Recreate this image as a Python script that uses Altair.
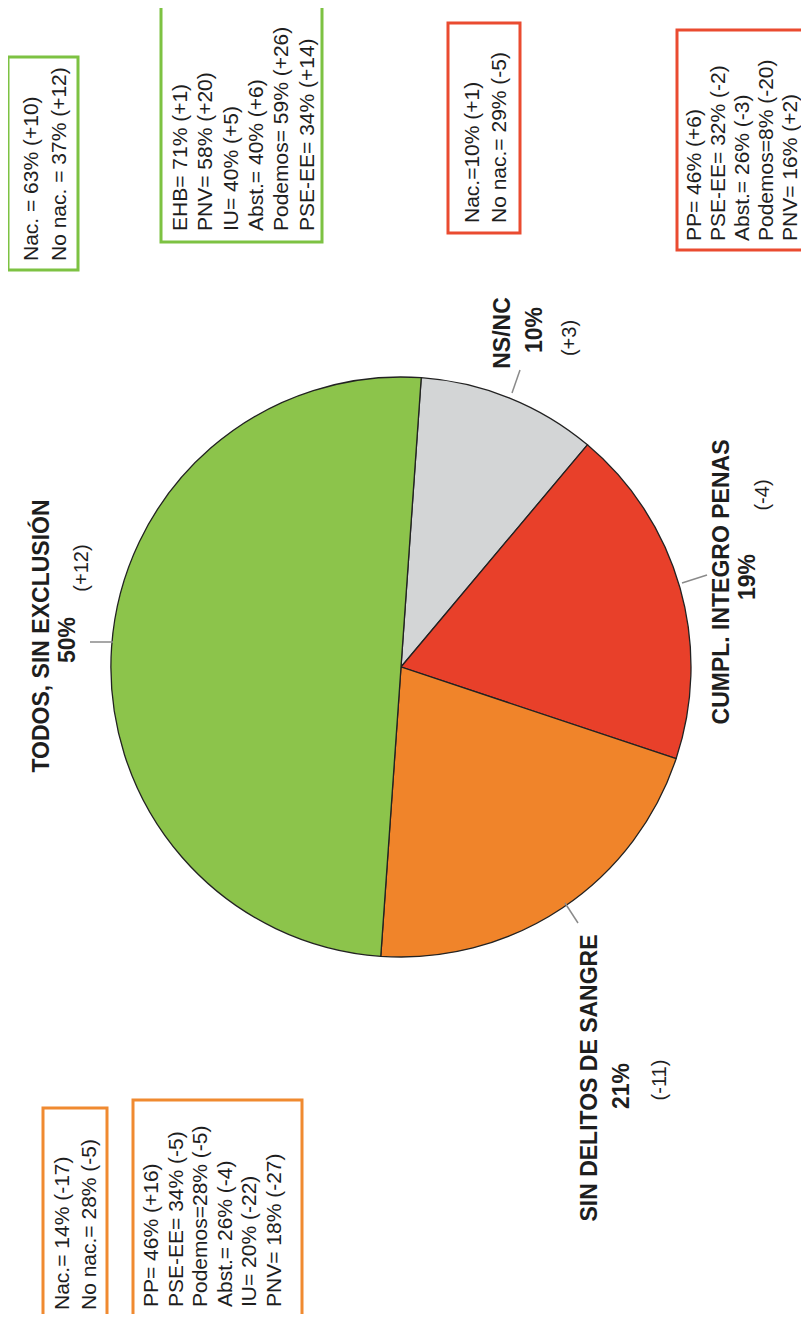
import math
import altair as alt
import pandas as pd

# ---------------- data ----------------
categories = ["NS/NC", "CUMPL. INTEGRO PENAS", "SIN DELITOS DE SANGRE", "TODOS, SIN EXCLUSIÓN"]
shares = [10, 19, 21, 50]
share_labels = ["10%", "19%", "21%", "50%"]
changes = ["(+3)", "(-4)", "(-11)", "(+12)"]

box_todos_nac = ["Nac. = 63% (+10)", "No nac. = 37% (+12)"]
box_todos_party = ["EHB= 71% (+1)", "PNV= 58% (+20)", "IU= 40% (+5)",
                   "Abst.= 40% (+6)", "Podemos= 59% (+26)", "PSE-EE= 34% (+14)"]
box_cumpl_nac = ["Nac.=10% (+1)", "No nac.= 29% (-5)"]
box_cumpl_party = ["PP= 46% (+6)", "PSE-EE= 32% (-2)", "Abst.= 26% (-3)",
                   "Podemos=8% (-20)", "PNV= 16% (+2)"]
box_sin_nac = ["Nac.= 14% (-17)", "No nac.= 28% (-5)"]
box_sin_party = ["PP= 46% (+16)", "PSE-EE= 34% (-5)", "Podemos=28% (-5)",
                 "Abst.= 26% (-4)", "IU= 20% (-22)", "PNV= 18% (-27)"]

# ---------------- styles / layout ----------------
slice_colors = ["#D3D5D6", "#E8402A", "#F0842A", "#8CC44B"]
GREEN_BOX, RED_BOX, ORANGE_BOX = "#7DC242", "#EA4B30", "#F08A30"
TEXT = "#1e1e1e"
FONT = "Liberation Sans"

W, H = 793, 1306
xs = alt.Scale(domain=[8, 801], range=[0, W])
ys = alt.Scale(domain=[8, 1314], range=[0, H])
PIE_CX, PIE_CY, PIE_R = 401, 667, 290
START = math.radians(4)

# boxes: (lines, color, x0, x1, y0, y1, first line x, line step, text start y)
boxes = [
    (box_todos_nac, GREEN_BOX, 8, 78, 57, 270, 32, 28, 261),
    (box_todos_party, GREEN_BOX, 161, 322, 3, 242, 181, 25.3, 231),
    (box_cumpl_nac, RED_BOX, 448, 520, 23, 233, 473, 27, 223),
    (box_cumpl_party, RED_BOX, 677, 815, 30, 250, 695, 24, 241),
    (box_sin_nac, ORANGE_BOX, 43, 107, 1108, 1318, 63, 27, 1310),
    (box_sin_party, ORANGE_BOX, 133, 302, 1100, 1318, 152, 24.6, 1307),
]

# pie labels: (name x, name y, pct x, pct y, change x, change y)
label_pos = [
    (503, 333, 535, 330, 570, 338),
    (722, 582, 748, 577, 763, 495),
    (590, 1078, 622, 1086, 660, 1080),
    (42, 636, 68, 640, 82, 568),
]
leaders = [(520, 370, 512, 393), (707, 575, 682, 583), (565, 903, 578, 923), (90, 642, 113, 642)]

# ---------------- tables ----------------
pie_df = pd.DataFrame({"category": categories, "share": shares, "idx": range(len(shares))})

rect_rows, line_rows = [], []
for lines, col, x0, x1, y0, y1, lx, step, ly in boxes:
    rect_rows.append({"x": x0, "x2": x1, "y": y0, "y2": y1, "c": col})
    for i, t in enumerate(lines):
        line_rows.append({"t": t, "x": lx + i * step, "y": ly})
rect_df = pd.DataFrame(rect_rows)
line_df = pd.DataFrame(line_rows)

name_rows, pct_rows, chg_rows = [], [], []
for cat, pl, ch, p in zip(categories, share_labels, changes, label_pos):
    name_rows.append({"t": cat, "x": p[0], "y": p[1]})
    pct_rows.append({"t": pl, "x": p[2], "y": p[3]})
    chg_rows.append({"t": ch, "x": p[4], "y": p[5]})
lead_df = pd.DataFrame([{"x": a, "y": b, "x2": c, "y2": d} for a, b, c, d in leaders])

X = lambda f="x": alt.X(f"{f}:Q", scale=xs, axis=None)
Y = lambda f="y": alt.Y(f"{f}:Q", scale=ys, axis=None)

pie = alt.Chart(pie_df).mark_arc(outerRadius=PIE_R, stroke="#222222", strokeWidth=1.3).encode(
    theta=alt.Theta("share:Q", stack=True, scale=alt.Scale(range=[START, START + 2 * math.pi])),
    order=alt.Order("idx:Q"),
    color=alt.Color("category:N", scale=alt.Scale(domain=categories, range=slice_colors), legend=None),
    x=alt.X(datum=PIE_CX, scale=xs, axis=None),
    y=alt.Y(datum=PIE_CY, scale=ys, axis=None),
)

rects = alt.Chart(rect_df).mark_rect(fill="#ffffff", strokeWidth=3).encode(
    x=X(), x2="x2:Q", y=Y(), y2="y2:Q", stroke=alt.Stroke("c:N", scale=None)
)

box_text = alt.Chart(line_df).mark_text(
    angle=270, align="left", baseline="middle", font=FONT, fontSize=21, color=TEXT
).encode(x=X(), y=Y(), text="t:N")

names = alt.Chart(pd.DataFrame(name_rows)).mark_text(
    angle=270, align="center", baseline="middle", font=FONT, fontSize=23, fontWeight="bold", color=TEXT
).encode(x=X(), y=Y(), text="t:N")

pcts = alt.Chart(pd.DataFrame(pct_rows)).mark_text(
    angle=270, align="center", baseline="middle", font=FONT, fontSize=23, fontWeight="bold", color=TEXT
).encode(x=X(), y=Y(), text="t:N")

chgs = alt.Chart(pd.DataFrame(chg_rows)).mark_text(
    angle=270, align="center", baseline="middle", font=FONT, fontSize=20, color=TEXT
).encode(x=X(), y=Y(), text="t:N")

leads = alt.Chart(lead_df).mark_rule(color="#8a8a8a", strokeWidth=1.5).encode(
    x=X(), y=Y(), x2="x2:Q", y2="y2:Q"
)

chart = alt.layer(pie, leads, rects, box_text, names, pcts, chgs).properties(
    width=W, height=H, padding=0, autosize=alt.AutoSizeParams(type="none")
).configure_view(strokeWidth=0)

chart.save("out.html", embed_options={"renderer": "svg", "actions": False})
